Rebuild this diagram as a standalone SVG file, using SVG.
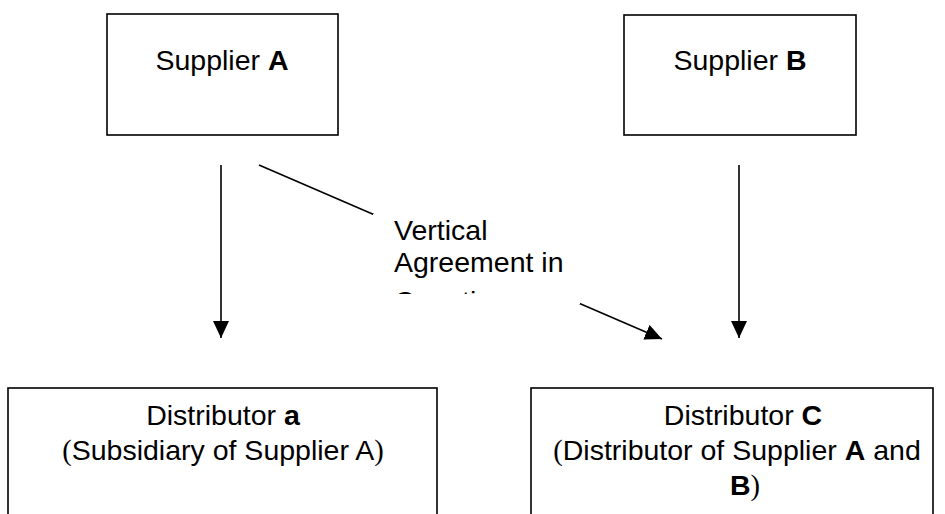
<svg xmlns="http://www.w3.org/2000/svg" width="945" height="514" viewBox="0 0 945 514">
  <style>
    .box { fill: #fff; stroke: #000; stroke-width: 1.6; }
    .t { font-family: "Liberation Sans", Arial, sans-serif; font-size: 28.5px; fill: #000; }
    .b { font-weight: bold; }
    .paren { font-family: "Liberation Serif", "Times New Roman", serif; }
    .edge { stroke: #000; stroke-width: 1.6; fill: none; }
  </style>
  <defs>
    <marker id="arrow" markerUnits="userSpaceOnUse" markerWidth="17" markerHeight="16" refX="17" refY="8" orient="auto">
      <path d="M0,0 L17,8 L0,16 Z" fill="#000"/>
    </marker>
    <clipPath id="labelClip">
      <rect x="373" y="214" width="207" height="80"/>
    </clipPath>
  </defs>

  <!-- connectors -->
  <g id="connectors">
    <line class="edge" x1="221" y1="165" x2="221" y2="338" marker-end="url(#arrow)"/>
    <line class="edge" x1="739" y1="165" x2="739" y2="338" marker-end="url(#arrow)"/>
    <line class="edge" x1="259" y1="165" x2="662" y2="339" marker-end="url(#arrow)"/>
    <!-- label frame on the diagonal -->
    <g id="label-vertical-agreement">
      <rect x="373" y="214" width="207" height="90" fill="#fff"/>
      <text class="t" clip-path="url(#labelClip)">
        <tspan x="394" y="240">Vertical</tspan>
        <tspan x="394" y="272">Agreement in</tspan>
        <tspan x="394" y="311">Question</tspan>
      </text>
    </g>
  </g>

  <g id="supplier-a">
    <rect class="box" x="107" y="14" width="231" height="121"/>
    <text class="t" x="222" y="70" text-anchor="middle">Supplier <tspan class="b">A</tspan></text>
  </g>

  <g id="supplier-b">
    <rect class="box" x="624" y="15" width="232" height="120"/>
    <text class="t" x="740" y="70" text-anchor="middle">Supplier <tspan class="b">B</tspan></text>
  </g>

  <g id="distributor-a">
    <rect class="box" x="8" y="388" width="429" height="140"/>
    <text class="t" x="223" y="425" text-anchor="middle">Distributor <tspan class="b">a</tspan></text>
    <text class="t" x="223" y="460" text-anchor="middle"><tspan class="paren">(</tspan>Subsidiary of Supplier A<tspan class="paren">)</tspan></text>
  </g>

  <g id="distributor-c">
    <rect class="box" x="531" y="388" width="402" height="140"/>
    <text class="t" x="743" y="425" text-anchor="middle">Distributor <tspan class="b">C</tspan></text>
    <text class="t" x="737" y="460" text-anchor="middle"><tspan class="paren">(</tspan>Distributor of Supplier <tspan class="b">A</tspan> and</text>
    <text class="t" x="745" y="495" text-anchor="middle"><tspan class="b">B</tspan><tspan class="paren">)</tspan></text>
  </g>
</svg>
